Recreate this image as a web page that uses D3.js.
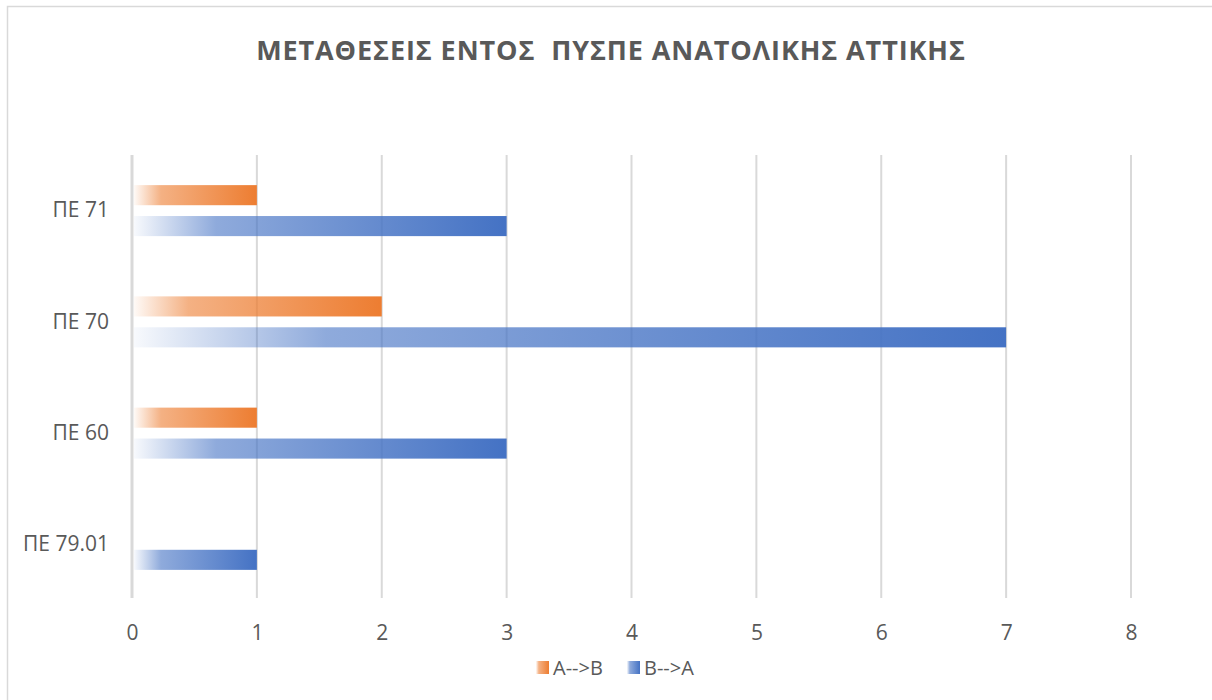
<!DOCTYPE html>
<html>
<head>
<meta charset="utf-8">
<script src="https://cdn.jsdelivr.net/npm/d3@7"></script>
<style>
  body { margin: 0; background: #fff; }
  text { font-family: "Open Sans", "Liberation Sans", sans-serif; fill: #595959; }
</style>
</head>
<body>
<div id="chart-area"></div>
<script>
// data
var categories = ["ΠΕ 71", "ΠΕ 70", "ΠΕ 60", "ΠΕ 79.01"];
var seriesNames = ["A-->B", "B-->A"];
var aToB = [1, 2, 1, 0];
var bToA = [3, 7, 3, 1];
var xTicks = [0, 1, 2, 3, 4, 5, 6, 7, 8];
var colors = ["#ed7d31", "#4472c4"];

var svg = d3.select("#chart-area")
  .append("svg")
  .attr("width", 1212)
  .attr("height", 700);

// chart border
svg.append("rect")
  .attr("x", 7.5).attr("y", 6.5)
  .attr("width", 1230).attr("height", 720)
  .attr("fill", "#fff")
  .attr("stroke", "#d9d9d9")
  .attr("stroke-width", 1.5);

// gradients
var defs = svg.append("defs");
colors.forEach(function(c, i) {
  var grad = defs.append("linearGradient")
    .attr("id", "grad" + i)
    .attr("x1", "0%").attr("x2", "100%")
    .attr("y1", "0%").attr("y2", "0%");
  grad.append("stop").attr("offset", "0%").attr("stop-color", c).attr("stop-opacity", 0.04);
  grad.append("stop").attr("offset", "22%").attr("stop-color", c).attr("stop-opacity", 0.6);
  grad.append("stop").attr("offset", "100%").attr("stop-color", c).attr("stop-opacity", 1);
});

svg.append("text")
  .attr("x", 611)
  .attr("y", 60)
  .attr("text-anchor", "middle")
  .style("font-size", "27px")
  .style("font-weight", "bold")
  .style("letter-spacing", "0.9px")
  .style("white-space", "pre")
  .text("ΜΕΤΑΘΕΣΕΙΣ ΕΝΤΟΣ  ΠΥΣΠΕ ΑΝΑΤΟΛΙΚΗΣ ΑΤΤΙΚΗΣ");

var x = d3.scaleLinear().domain([0, 8]).range([132, 1131]);
var y = d3.scaleBand().domain(categories).range([155, 600]);
var y1 = d3.scaleBand()
  .domain(seriesNames)
  .range([y.bandwidth() / 2 - 25.5, y.bandwidth() / 2 + 25.5])
  .paddingInner(0.35);

// grid lines
svg.append("g")
  .selectAll("line")
  .data(xTicks)
  .enter()
  .append("line")
  .attr("x1", function(d) { return x(d); })
  .attr("x2", function(d) { return x(d); })
  .attr("y1", 155)
  .attr("y2", 598)
  .attr("stroke", "#d9d9d9")
  .attr("stroke-width", function(d) { return d === 0 ? 3 : 2; });

// x axis labels
var xAxis = d3.axisBottom(x).tickValues(xTicks).tickSize(0).tickPadding(0);
var gx = svg.append("g")
  .attr("transform", "translate(0,625)")
  .call(xAxis);
gx.select(".domain").remove();
gx.selectAll("text")
  .style("font-size", "21px")
  .style("font-family", "'Open Sans', sans-serif")
  .attr("fill", "#595959");

// y axis labels
var yAxis = d3.axisLeft(y).tickSize(0).tickPadding(0);
var gy = svg.append("g")
  .attr("transform", "translate(109,0)")
  .call(yAxis);
gy.select(".domain").remove();
gy.selectAll("text")
  .style("font-size", "21px")
  .style("font-family", "'Open Sans', sans-serif")
  .attr("fill", "#595959");

// bars
var rows = categories.map(function(c, i) {
  return { cat: c, values: [aToB[i], bToA[i]] };
});

var groups = svg.selectAll(".cat")
  .data(rows)
  .enter()
  .append("g")
  .attr("class", "cat")
  .attr("transform", function(d) { return "translate(0," + y(d.cat) + ")"; });

groups.selectAll("rect")
  .data(function(d) {
    return d.values.map(function(v, i) { return { name: seriesNames[i], value: v, idx: i }; });
  })
  .enter()
  .append("rect")
  .filter(function(d) { return d.value > 0; })
  .attr("x", x(0) + 2)
  .attr("y", function(d) { return y1(d.name); })
  .attr("width", function(d) { return x(d.value) - x(0) - 2; })
  .attr("height", y1.bandwidth())
  .attr("fill", function(d) { return "url(#grad" + d.idx + ")"; });

// legend
var legendX = [536, 627];
var legend = svg.selectAll(".legend")
  .data(seriesNames)
  .enter()
  .append("g")
  .attr("class", "legend")
  .attr("transform", function(d, i) { return "translate(" + legendX[i] + ",661)"; });

legend.append("rect")
  .attr("width", 13)
  .attr("height", 13)
  .attr("fill", function(d, i) { return "url(#grad" + i + ")"; });

legend.append("text")
  .attr("x", 17)
  .attr("y", 14)
  .style("font-size", "20px")
  .text(function(d) { return d; });
</script>
</body>
</html>
